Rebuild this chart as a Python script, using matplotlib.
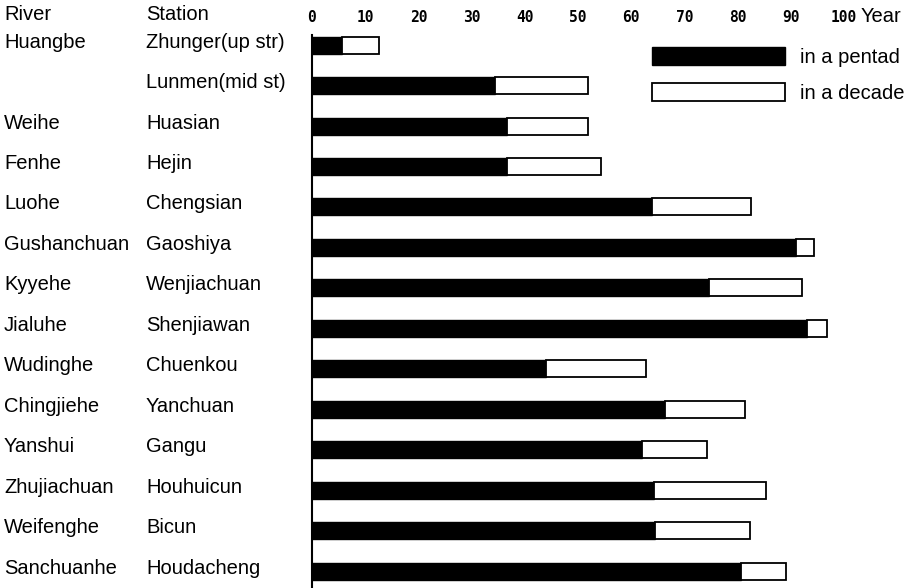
import matplotlib
matplotlib.use("Agg")
import matplotlib.pyplot as plt
from matplotlib.transforms import blended_transform_factory, ScaledTranslation
import numpy as np

rivers = ["Huangbe", "", "Weihe", "Fenhe", "Luohe", "Gushanchuan", "Kyyehe",
          "Jialuhe", "Wudinghe", "Chingjiehe", "Yanshui", "Zhujiachuan",
          "Weifenghe", "Sanchuanhe"]
stations = ["Zhunger(up str)", "Lunmen(mid st)", "Huasian", "Hejin", "Chengsian",
            "Gaoshiya", "Wenjiachuan", "Shenjiawan", "Chuenkou", "Yanchuan",
            "Gangu", "Houhuicun", "Bicun", "Houdacheng"]
pentad = [5.6, 34.4, 36.7, 36.7, 63.9, 91.0, 74.6, 93.0, 44.0, 66.4, 62.0, 64.3, 64.5, 80.6]
decade = [12.6, 51.9, 51.9, 54.3, 82.5, 94.4, 92.1, 96.8, 62.8, 81.4, 74.2, 85.3, 82.3, 89.1]
xticks = [0, 10, 20, 30, 40, 50, 60, 70, 80, 90, 100]

W, H = 916, 588
fig = plt.figure(figsize=(W / 100, H / 100), dpi=100)
fig.patch.set_facecolor("white")

ax_left = 312 / W
ax_top = 1 - 35 / H
ax = fig.add_axes([ax_left, 0, 1 - ax_left, ax_top])

ypos = np.arange(len(stations))
pentad = np.array(pentad)
decade = np.array(decade)

ax.barh(ypos, pentad, height=0.42, color="black", edgecolor="black", linewidth=1.0,
        label="in a pentad")
ax.barh(ypos, decade - pentad, left=pentad, height=0.42, color="white",
        edgecolor="black", linewidth=1.3, label="in a decade")

px_per_unit = 5.32
ax.set_xlim(0, (W - 312) / px_per_unit)
ax.set_ylim(13.42, -0.25)

for s in ["top", "right", "bottom"]:
    ax.spines[s].set_visible(False)
ax.spines["left"].set_linewidth(1.5)
ax.set_yticks([])
ax.xaxis.tick_top()
ax.set_xticks(xticks)
ax.set_xticklabels([str(t) for t in xticks], family="DejaVu Sans Mono",
                   fontweight="bold", fontsize=10.5)
ax.tick_params(axis="x", length=0, pad=7)

txtfont = "Liberation Sans"
fs = 14.5
off = ScaledTranslation(0, -0.025, fig.dpi_scale_trans)
tr_river = blended_transform_factory(fig.transFigure, ax.transData) + off
for i, (r, s) in enumerate(zip(rivers, stations)):
    if r:
        fig.text(4 / W, i, r, transform=tr_river, family=txtfont, fontsize=fs,
                 va="baseline", ha="left")
    fig.text(146 / W, i, s, transform=tr_river, family=txtfont, fontsize=fs,
             va="baseline", ha="left")

fig.text(4 / W, 1 - 14 / H, "River", family=txtfont, fontsize=fs, va="center", ha="left")
fig.text(146 / W, 1 - 14 / H, "Station", family=txtfont, fontsize=fs, va="center", ha="left")
fig.text(861 / W, 1 - 17 / H, "Year", family=txtfont, fontsize=fs, va="center", ha="left")

leg = ax.legend(loc="upper left", bbox_to_anchor=(652 / W, 1 - 47 / H),
                bbox_transform=fig.transFigure, frameon=False,
                prop={"family": txtfont, "size": fs}, handlelength=6.6,
                handleheight=1.02, handletextpad=0.75, labelspacing=0.8,
                borderpad=0, borderaxespad=0)

fig.savefig("out.png", dpi=100, facecolor="white")
